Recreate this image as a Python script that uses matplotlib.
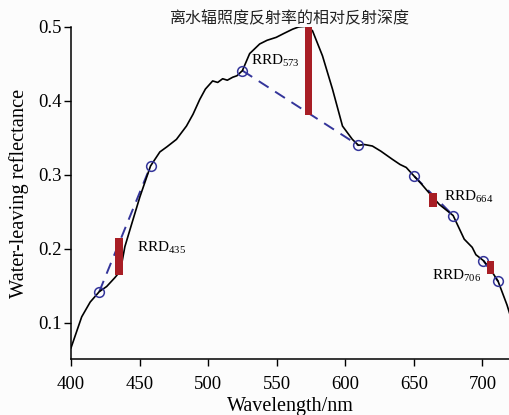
import matplotlib
matplotlib.use("Agg")
import matplotlib.pyplot as plt
import numpy as np

plt.rcParams['font.family'] = ['Liberation Serif', 'Noto Sans CJK SC', 'DejaVu Sans']
plt.rcParams['mathtext.fontset'] = 'custom'
plt.rcParams['mathtext.rm'] = 'Liberation Serif'

# Spectrum (wavelength nm, reflectance)
wl = [400, 407.8, 414, 420.6, 426, 432.0, 436, 439.3, 444, 450.2, 458.0, 464.8, 470, 476.9,
      484.2, 489, 493.9, 498, 503.3, 507, 510.6, 514, 517.9, 521, 525.0, 530.3, 537.6,
      543, 549.7, 555, 561.6, 566, 571.5, 576.1, 583.4, 590.7, 598.0, 605.2, 609.6, 614,
      619.8, 626, 634.4, 640, 644.5, 648.9, 650.4, 655, 659.1, 668.6, 678.7, 686.8,
      692.6, 695.3, 700.8, 706, 711.5, 718.0, 720]
refl = [0.066, 0.108, 0.128, 0.142, 0.149, 0.161, 0.170, 0.203, 0.232, 0.270, 0.312, 0.331,
        0.338, 0.348, 0.366, 0.382, 0.402, 0.416, 0.427, 0.425, 0.430, 0.428, 0.432, 0.434,
        0.441, 0.464, 0.477, 0.482, 0.486, 0.491, 0.497, 0.500, 0.501, 0.495, 0.461,
        0.416, 0.366, 0.348, 0.340, 0.341, 0.339, 0.332, 0.321, 0.314, 0.310, 0.301,
        0.298, 0.289, 0.280, 0.260, 0.245, 0.213, 0.202, 0.192, 0.184, 0.172, 0.156,
        0.124, 0.112]

# Shoulder points (circles), joined in pairs by dashed baselines
shoulder_wl = [420.6, 458.0, 525.0, 609.6, 650.4, 678.7, 700.8, 711.5]
shoulder_r = [0.142, 0.312, 0.441, 0.340, 0.298, 0.245, 0.184, 0.156]

# RRD bars: centre wavelength, bottom, top
rrd_wl = [435, 573, 664, 706]
rrd_bottom = [0.165, 0.381, 0.256, 0.166]
rrd_top = [0.215, 0.503, 0.276, 0.183]
rrd_labels = ['435', '573', '664', '706']
label_x = [448, 531, 672, 663]
label_y = [0.202, 0.454, 0.270, 0.164]

title = '离水辐照度反射率的相对反射深度'

fig = plt.figure(figsize=(5.09, 4.15), dpi=100)
fig.patch.set_facecolor('#fcfcfc')
ax = fig.add_axes([0.1395, 0.135, 0.862, 0.800])
ax.set_facecolor('#fcfcfc')

blue = '#34359a'
red = '#a81e25'

ax.plot(wl, refl, color='black', lw=1.2, zorder=3)
for i in range(0, len(shoulder_wl), 2):
    ax.plot(shoulder_wl[i:i+2], shoulder_r[i:i+2], color=blue, lw=1.4,
            dashes=(6, 4), zorder=2)
ax.plot(shoulder_wl, shoulder_r, 'o', ms=7, mfc='none', mec=blue, mew=1.1,
        ls='none', zorder=4)

ax.bar(rrd_wl, np.array(rrd_top) - np.array(rrd_bottom), bottom=rrd_bottom,
       width=5.2, color=red, zorder=5)

for lx, ly, lab in zip(label_x, label_y, rrd_labels):
    ax.text(lx, ly, r'RRD$_{\mathrm{%s}}$' % lab, fontsize=11, va='center', ha='left',
            zorder=6)

ax.set_xlim(400, 720)
ax.set_ylim(0.051, 0.5)
ax.set_xticks([400, 450, 500, 550, 600, 650, 700])
ax.set_yticks([0.1, 0.2, 0.3, 0.4, 0.5])
ax.set_yticklabels(['0.1', '0.2', '0.3', '0.4', '0.5'])
ax.tick_params(direction='out', length=5, width=1, labelsize=13.5)
ax.tick_params(axis='x', pad=7)
ax.tick_params(axis='y', pad=2)
for s in ['top', 'right']:
    ax.spines[s].set_visible(False)
for s in ['left', 'bottom']:
    ax.spines[s].set_linewidth(1.1)

ax.set_xlabel('Wavelength/nm', fontsize=14.5, labelpad=3)
ax.set_ylabel('Water-leaving reflectance', fontsize=14.7, labelpad=6)
ax.set_title(title, fontsize=11.5, family=['Noto Sans CJK SC', 'DejaVu Sans'],
             color='#222222', pad=-2)

fig.savefig('out.png', dpi=100, facecolor=fig.get_facecolor())
